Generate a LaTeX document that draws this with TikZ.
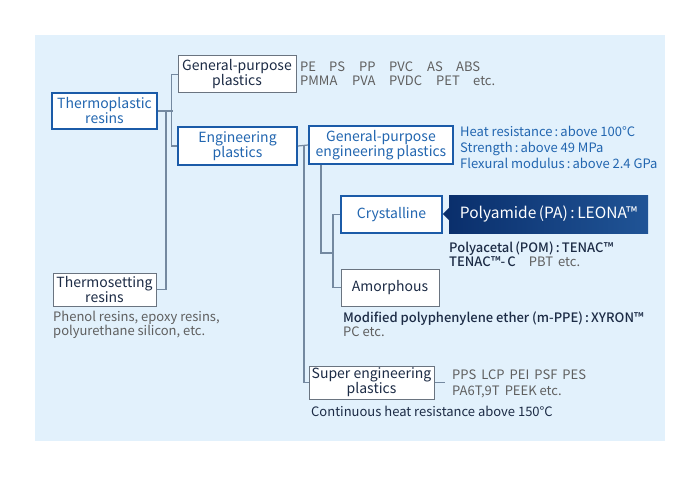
\documentclass[tikz,border=0pt]{standalone}
\usepackage{fontspec}
\setmainfont{Noto Sans CJK JP}[BoldFont={Noto Sans CJK JP Medium}]
\usetikzlibrary{calc}
\definecolor{bgc}{HTML}{E2F1FC}
\definecolor{bluebd}{HTML}{1B5BA8}
\definecolor{bluetx}{HTML}{2266B0}
\definecolor{graybd}{HTML}{6A7480}
\definecolor{linec}{HTML}{7489A0}
\definecolor{navy}{HTML}{1C2B45}
\definecolor{graytx}{HTML}{5F5F5F}
\definecolor{darkL}{HTML}{0A2F6C}
\definecolor{darkR}{HTML}{205496}
\tikzset{
  boxbase/.style={fill=white, inner sep=0pt, align=center, font=\fontsize{14}{15}\selectfont},
  bluebox/.style={boxbase, draw=bluebd, line width=2pt, text=bluetx},
  graybox/.style={boxbase, draw=graybd, line width=1pt, text=navy},
  conn/.style={draw=linec, line width=1.2pt},
  info/.style={anchor=west, inner sep=0pt, align=left, font=\fontsize{13}{14}\selectfont},
}
\begin{document}
\begin{tikzpicture}[x=1pt,y=-1pt]
\useasboundingbox (0,0) rectangle (700,476);
\fill[bgc] (35,35) rectangle (665,441);

% boxes
\node[bluebox, minimum width=105pt, minimum height=36pt] (thermo) at (104.5,111) {Thermoplastic\\resins};
\node[graybox, minimum width=118pt, minimum height=37pt] (gpp) at (237,74.5) {General-purpose\\plastics};
\node[bluebox, minimum width=119pt, minimum height=38pt] (eng) at (237.5,146) {Engineering\\plastics};
\node[graybox, minimum width=103pt, minimum height=33pt] (tset) at (104.5,289.5) {Thermosetting\\resins};
\node[bluebox, minimum width=144pt, minimum height=38pt] (gpep) at (381,145) {General-purpose\\engineering plastics};
\node[bluebox, minimum width=101pt, minimum height=37pt] (cryst) at (391.5,214.5) {Crystalline};
\node[graybox, minimum width=98pt, minimum height=37pt] (amor) at (390,287.5) {Amorphous};
\node[graybox, minimum width=125pt, minimum height=33pt] (super) at (371.5,382.5) {Super engineering\\plastics};
\node[inner sep=0pt, minimum width=199pt, minimum height=38pt, left color=darkL, right color=darkR, text=white, font=\fontsize{15.5}{16}\selectfont] (pa) at (548.5,214) {Polyamide\,(PA)\,:\,LEONA™};
\fill[darkL] (pa.west) ++(-6,0) -- ++(6,-6) -- ++(0,12) -- cycle;

% connectors
\draw[conn] (thermo.east) -- ++(15,0);
\draw[conn] (gpp.west) -- ++(-6,0) |- (eng.west);
\draw[conn] (thermo.east) ++(8,0) |- (tset.east);
\draw[conn] (eng.east) -- (gpep.west);
\draw[conn] (eng.east) ++(6,0) |- (super.west);
\coordinate (crtrunk) at ($(cryst.west)+(-7,38.5)$);
\draw[conn] ($(gpep.south west)+(13,0)$) |- (crtrunk);
\draw[conn] (cryst.west) -- ++(-7,0) |- (amor.west);
\draw[conn] (super.east) -- ++(10,0);

% info texts
\node[info, text=graytx] (pe) at (300,74) {%
\makebox[29pt][l]{PE}\makebox[30pt][l]{PS}\makebox[30pt][l]{PP}\makebox[38pt][l]{PVC}\makebox[29pt][l]{AS}ABS\\
\makebox[52pt][l]{PMMA}\makebox[37pt][l]{PVA}\makebox[47pt][l]{PVDC}\makebox[37pt][l]{PET}etc.};
\node[info, text=bluetx, font=\fontsize{13}{16}\selectfont] (heat) at (460,147) {Heat resistance\,:\,above 100°C\\Strength\,:\,above 49 MPa\\Flexural modulus\,:\,above 2.4 GPa};
\node[info, text=navy, font=\fontsize{13}{14}\selectfont\bfseries] (pom) at (449,254) {Polyacetal\,(POM)\,:\,TENAC™\\TENAC™-\,C\quad{\mdseries\color{graytx}PBT\, etc.}};
\node[info, text=navy, font=\fontsize{13}{14}\selectfont\bfseries] (ppe) at (343,324) {Modified polyphenylene ether (m-PPE)\,:\,XYRON™\\{\mdseries\color{graytx}PC etc.}};
\node[info, text=graytx] (phen) at (53,325) {Phenol resins, epoxy resins,\\polyurethane silicon, etc.};
\node[info, text=graytx, font=\fontsize{13}{16}\selectfont] (pps) at (452,384) {PPS\, LCP\, PEI\, PSF\, PES\\PA6T,9T\, PEEK etc.};
\node[info, text=navy] (cont) at (311,411) {Continuous heat resistance above 150°C};
\end{tikzpicture}
\end{document}
